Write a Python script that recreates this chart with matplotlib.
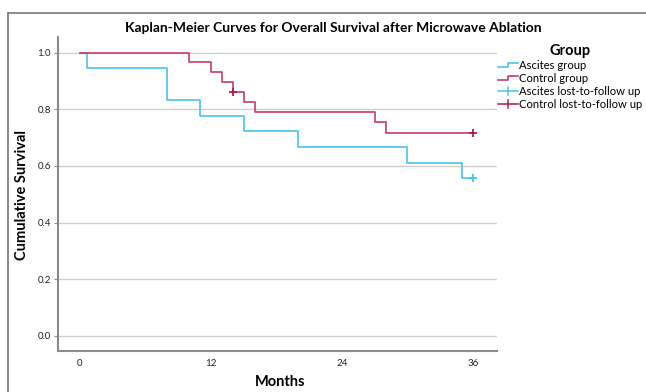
import matplotlib
matplotlib.use("Agg")
import matplotlib.pyplot as plt
from matplotlib.lines import Line2D
from matplotlib.legend_handler import HandlerBase

plt.rcParams['font.family'] = ['Lato', 'DejaVu Sans']

# Data
asc_times = [0, 0.7, 8, 11, 15, 20, 30, 35, 36]
asc_surv = [1.0, 0.944, 0.833, 0.778, 0.722, 0.667, 0.611, 0.556, 0.556]
ctl_times = [0, 10, 12, 13, 14, 15, 16, 27, 28, 36]
ctl_surv = [1.0, 0.966, 0.931, 0.897, 0.862, 0.826, 0.790, 0.754, 0.718, 0.718]
asc_cens_t = [36]
asc_cens_s = [0.556]
ctl_cens_t = [14, 36]
ctl_cens_s = [0.862, 0.718]
xticks = [0, 12, 24, 36]
yticks = [0.0, 0.2, 0.4, 0.6, 0.8, 1.0]
labels = ["Ascites group", "Control group", "Ascites lost-to-follow up", "Control lost-to-follow up"]

BLUE = "#45C3F2"
RED = "#C43C6C"
RED_M = "#B3174F"
GRID = "#D0D0D0"
SPINE = "#8A8A8A"

W, H = 646, 392
fig = plt.figure(figsize=(W / 100, H / 100), dpi=100)

def fx(px):
    return px / W

def fy(py):
    return 1 - py / H

ax = fig.add_axes([fx(58), fy(351), fx(497) - fx(58), fy(37) - fy(351)])
ax.set_xlim(-2.0, 38.2)
ax.set_ylim(-0.053, 1.055)

for y in yticks:
    ax.axhline(y, color=GRID, lw=1.0, zorder=0)

ax.step(asc_times, asc_surv, where="post", color=BLUE, lw=1.2, zorder=3)
ax.step(ctl_times, ctl_surv, where="post", color=RED, lw=1.2, zorder=4)
ax.plot(asc_cens_t, asc_cens_s, ls="none", marker="+", ms=6, mew=1.3, color=BLUE, zorder=5)
ax.plot(ctl_cens_t, ctl_cens_s, ls="none", marker="+", ms=6, mew=1.3, color=RED_M, zorder=5)

for s in ["top", "right"]:
    ax.spines[s].set_visible(False)
for s in ["left", "bottom"]:
    ax.spines[s].set_color(SPINE)
    ax.spines[s].set_linewidth(1.5)

ax.set_xticks(xticks)
ax.set_xticklabels([str(t) for t in xticks])
ax.set_yticks(yticks)
ax.set_yticklabels([f"{t:.1f}" for t in yticks])
ax.tick_params(axis="x", length=0, pad=6, labelsize=7, colors="#222222")
ax.tick_params(axis="y", length=3, width=0.8, color=SPINE, pad=2, labelsize=7, labelcolor="#222222")

fig.text(fx(280), fy(382), "Months", ha="center", va="center", fontsize=10.5, fontweight="bold")
fig.text(fx(22), fy(195), "Cumulative Survival", ha="center", va="center", rotation=90,
         fontsize=10.5, fontweight="bold")
fig.text(fx(333), fy(28), "Kaplan-Meier Curves for Overall Survival after Microwave Ablation",
         ha="center", va="center", fontsize=10, fontweight="bold")

# outer frame (left and top edges)
fig.add_artist(Line2D([fx(8), fx(8)], [fy(13), 0], color="#777777", lw=1.2, transform=fig.transFigure))
fig.add_artist(Line2D([fx(8), 1], [fy(13), fy(13)], color="#777777", lw=1.2, transform=fig.transFigure))


class StepHandler(HandlerBase):
    def create_artists(self, legend, orig_handle, xdescent, ydescent, width, height, fontsize, trans):
        x0, y0 = -xdescent, -ydescent
        xs = [x0, x0 + width * 0.5, x0 + width * 0.5, x0 + width]
        ys = [y0 + height * 0.2, y0 + height * 0.2, y0 + height * 0.8, y0 + height * 0.8]
        ln = Line2D(xs, ys, color=orig_handle.get_color(), lw=1.2, transform=trans)
        return [ln]


class CrossHandler(HandlerBase):
    def create_artists(self, legend, orig_handle, xdescent, ydescent, width, height, fontsize, trans):
        x0, y0 = -xdescent, -ydescent
        c = orig_handle.get_color()
        h = Line2D([x0, x0 + width], [y0 + height / 2] * 2, color=c, lw=1.1, transform=trans)
        v = Line2D([x0 + width / 2] * 2, [y0 - height * 0.05, y0 + height * 1.05], color=c, lw=1.1, transform=trans)
        return [h, v]


h1 = Line2D([], [], color=BLUE)
h2 = Line2D([], [], color=RED)
h3 = Line2D([], [], color=BLUE, marker="+")
h4 = Line2D([], [], color=RED_M, marker="+")
leg = fig.legend([h1, h2, h3, h4], labels,
                 handler_map={h1: StepHandler(), h2: StepHandler(), h3: CrossHandler(), h4: CrossHandler()},
                 loc="upper left", bbox_to_anchor=(fx(490), fy(36)), frameon=False,
                 fontsize=8.1, title="Group", title_fontproperties={"weight": "bold", "size": 10.5},
                 handlelength=1.75, handletextpad=0.1, labelspacing=0.18, borderpad=0.2)

fig.savefig("out.png", dpi=100)
